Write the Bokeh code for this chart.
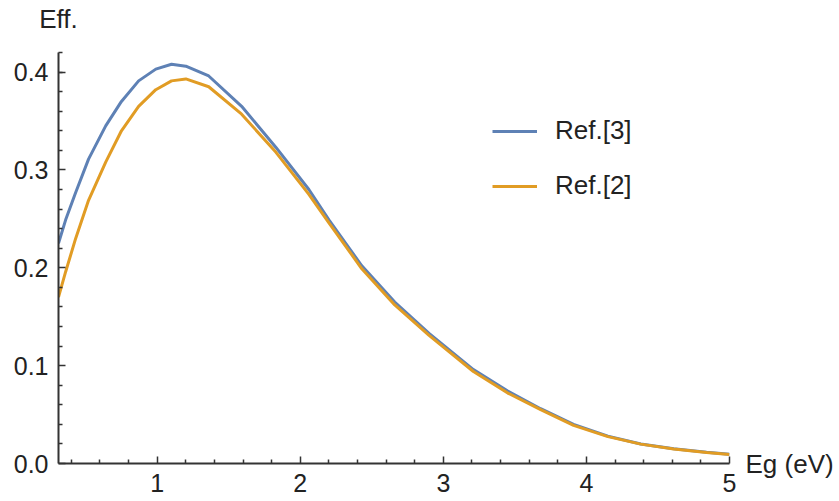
from bokeh.plotting import figure
from bokeh.models import (Range1d, FixedTicker, PrintfTickFormatter, LinearAxis,
                          Legend, LegendItem, ColumnDataSource)
from bokeh.embed import file_html
from bokeh.resources import INLINE

# ---- data ----
eg = [0.31, 0.36, 0.43, 0.52, 0.64, 0.75, 0.87, 0.99, 1.10, 1.20, 1.36, 1.59,
      1.83, 2.06, 2.20, 2.43, 2.66, 2.90, 3.21, 3.45, 3.68, 3.91, 4.15, 4.38,
      4.61, 4.84, 5.00]
eff_ref3 = [0.225, 0.249, 0.277, 0.311, 0.345, 0.370, 0.391, 0.403, 0.408,
            0.406, 0.396, 0.365, 0.323, 0.280, 0.249, 0.202, 0.165, 0.133,
            0.096, 0.074, 0.056, 0.040, 0.028, 0.020, 0.015, 0.0115, 0.0095]
eff_ref2 = [0.170, 0.196, 0.230, 0.269, 0.308, 0.340, 0.365, 0.382, 0.391,
            0.393, 0.385, 0.357, 0.318, 0.275, 0.246, 0.199, 0.162, 0.131,
            0.094, 0.072, 0.055, 0.039, 0.0275, 0.0198, 0.0148, 0.0113, 0.0093]
series_names = ["Ref.[3]", "Ref.[2]"]
x_ticks = [1, 2, 3, 4, 5]
x_minor = [0.4, 0.6, 0.8, 1.2, 1.4, 1.6, 1.8, 2.2, 2.4, 2.6, 2.8, 3.2, 3.4,
           3.6, 3.8, 4.2, 4.4, 4.6, 4.8]
y_ticks = [0.0, 0.1, 0.2, 0.3, 0.4]
y_minor = [0.02, 0.04, 0.06, 0.08, 0.12, 0.14, 0.16, 0.18, 0.22, 0.24, 0.26,
           0.28, 0.32, 0.34, 0.36, 0.38, 0.40, 0.42]
x_label = "Eg (eV)"
y_label = "Eff."

FONT = "Liberation Sans"
BLUE = "#5E81B5"
ORANGE = "#E19C24"
AX = "#333333"
TXT = "#222222"

p = figure(width=839, height=501,
           x_range=Range1d(0.31, 5.0), y_range=Range1d(0.0, 0.42),
           output_backend="svg", toolbar_location=None,
           min_border_left=58, min_border_right=110, min_border_top=49,
           min_border_bottom=38)
p.outline_line_color = None
p.grid.visible = False
p.background_fill_color = "white"
p.border_fill_color = "white"

src = ColumnDataSource(dict(x=eg, a=eff_ref3, b=eff_ref2))
r3 = p.line("x", "a", source=src, line_color=BLUE, line_width=3)
r2 = p.line("x", "b", source=src, line_color=ORANGE, line_width=3)

for ax in (p.xaxis[0], p.yaxis[0]):
    ax.axis_line_color = AX
    ax.axis_line_width = 2
    ax.major_tick_line_color = AX
    ax.minor_tick_line_color = AX
    ax.major_tick_line_width = 1.5
    ax.minor_tick_line_width = 1.5
    ax.major_tick_in = 7
    ax.major_tick_out = 0
    ax.minor_tick_in = 4
    ax.minor_tick_out = 0
    ax.major_label_text_font = FONT
    ax.major_label_text_font_size = "25px"
    ax.major_label_text_color = TXT

p.xaxis[0].ticker = FixedTicker(ticks=x_ticks, minor_ticks=x_minor)
p.yaxis[0].ticker = FixedTicker(ticks=y_ticks, minor_ticks=y_minor)
p.yaxis[0].formatter = PrintfTickFormatter(format="%.1f")
p.xaxis[0].major_label_standoff = 10
p.yaxis[0].major_label_standoff = 10

# axis titles: placed as the single tick label of bare axes, so that they sit
# at the end of the axes like in the reference
p.extra_x_ranges = {"lab": Range1d(0, 1)}


def title_axis(text, standoff, **kw):
    return LinearAxis(ticker=FixedTicker(ticks=[0], minor_ticks=[]),
                      major_label_overrides={0: text},
                      axis_line_color=None,
                      major_tick_out=0, minor_tick_out=0,
                      major_tick_in=0, minor_tick_in=0,
                      major_label_standoff=standoff,
                      major_label_text_font=FONT,
                      major_label_text_font_size="26px",
                      major_label_text_color=TXT, **kw)


p.add_layout(title_axis(y_label, 19, x_range_name="lab"), "above")
p.add_layout(title_axis(x_label, 16), "right")

legend = Legend(items=[LegendItem(label=series_names[0], renderers=[r3]),
                       LegendItem(label=series_names[1], renderers=[r2])],
                location=(434, 262), margin=0, padding=0, spacing=24,
                glyph_width=45, glyph_height=30, label_height=30,
                label_standoff=18, label_text_font=FONT,
                label_text_font_size="26px", label_text_color=TXT,
                border_line_color=None, background_fill_alpha=0)
p.add_layout(legend)

open("out.html", "w").write(file_html(p, INLINE))
